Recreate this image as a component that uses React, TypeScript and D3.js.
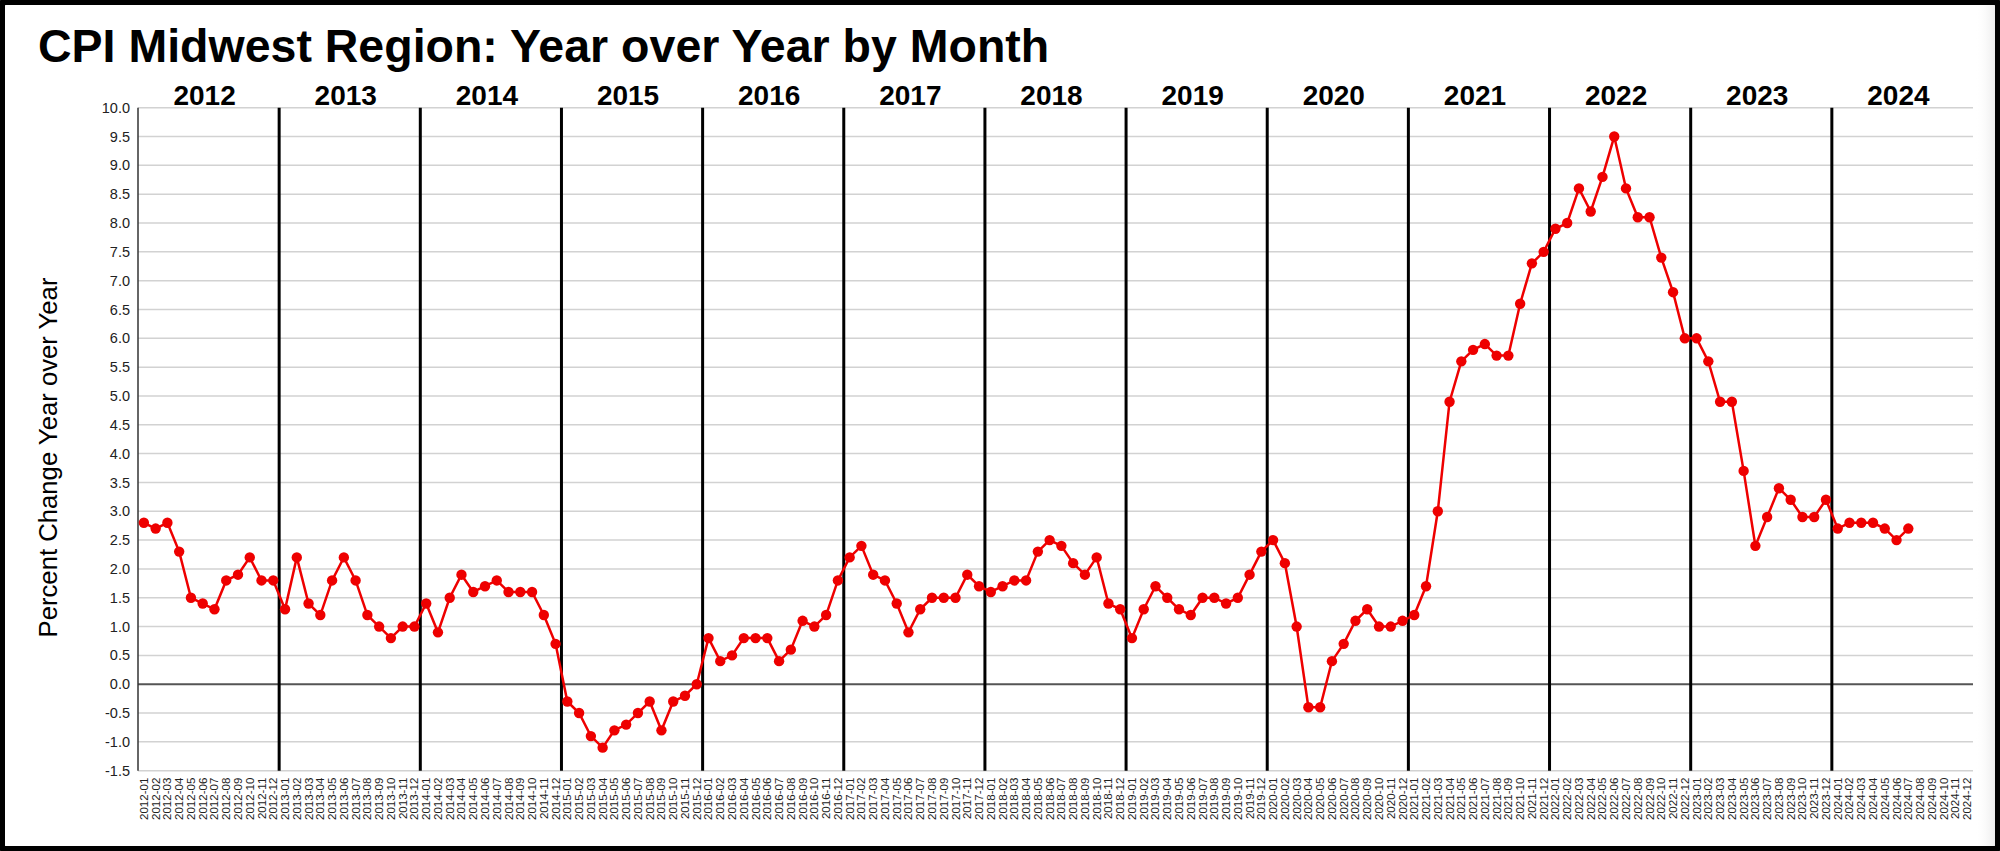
import React from 'react';
import * as d3 from 'd3';

const titleText = 'CPI Midwest Region: Year over Year by Month';
const yAxisTitle = 'Percent Change Year over Year';
const years = [2012, 2013, 2014, 2015, 2016, 2017, 2018, 2019, 2020, 2021, 2022, 2023, 2024];
const monthCodes = ['01', '02', '03', '04', '05', '06', '07', '08', '09', '10', '11', '12'];
const yTicks = [-1.5, -1.0, -0.5, 0.0, 0.5, 1.0, 1.5, 2.0, 2.5, 3.0, 3.5, 4.0, 4.5, 5.0, 5.5, 6.0, 6.5, 7.0, 7.5, 8.0, 8.5, 9.0, 9.5, 10.0];

const cpi2012 = [2.8, 2.7, 2.8, 2.3, 1.5, 1.4, 1.3, 1.8, 1.9, 2.2, 1.8, 1.8];
const cpi2013 = [1.3, 2.2, 1.4, 1.2, 1.8, 2.2, 1.8, 1.2, 1.0, 0.8, 1.0, 1.0];
const cpi2014 = [1.4, 0.9, 1.5, 1.9, 1.6, 1.7, 1.8, 1.6, 1.6, 1.6, 1.2, 0.7];
const cpi2015 = [-0.3, -0.5, -0.9, -1.1, -0.8, -0.7, -0.5, -0.3, -0.8, -0.3, -0.2, 0.0];
const cpi2016 = [0.8, 0.4, 0.5, 0.8, 0.8, 0.8, 0.4, 0.6, 1.1, 1.0, 1.2, 1.8];
const cpi2017 = [2.2, 2.4, 1.9, 1.8, 1.4, 0.9, 1.3, 1.5, 1.5, 1.5, 1.9, 1.7];
const cpi2018 = [1.6, 1.7, 1.8, 1.8, 2.3, 2.5, 2.4, 2.1, 1.9, 2.2, 1.4, 1.3];
const cpi2019 = [0.8, 1.3, 1.7, 1.5, 1.3, 1.2, 1.5, 1.5, 1.4, 1.5, 1.9, 2.3];
const cpi2020 = [2.5, 2.1, 1.0, -0.4, -0.4, 0.4, 0.7, 1.1, 1.3, 1.0, 1.0, 1.1];
const cpi2021 = [1.2, 1.7, 3.0, 4.9, 5.6, 5.8, 5.9, 5.7, 5.7, 6.6, 7.3, 7.5];
const cpi2022 = [7.9, 8.0, 8.6, 8.2, 8.8, 9.5, 8.6, 8.1, 8.1, 7.4, 6.8, 6.0];
const cpi2023 = [6.0, 5.6, 4.9, 4.9, 3.7, 2.4, 2.9, 3.4, 3.2, 2.9, 2.9, 3.2];
const cpi2024 = [2.7, 2.8, 2.8, 2.8, 2.7, 2.5, 2.7];

const seriesByYear = [cpi2012, cpi2013, cpi2014, cpi2015, cpi2016, cpi2017, cpi2018, cpi2019, cpi2020, cpi2021, cpi2022, cpi2023, cpi2024];

const categories: string[] = [];
years.forEach((yr) => monthCodes.forEach((m) => categories.push(`${yr}-${m}`)));

type Pt = { cat: string; v: number };
const points: Pt[] = [];
years.forEach((yr, i) => {
  seriesByYear[i].forEach((v, j) => points.push({ cat: `${yr}-${monthCodes[j]}`, v }));
});

const W = 2000;
const H = 851;
const left = 138;
const right = 1973;
const top = 107.7;
const bottom = 770.7;

export default function App() {
  const x = d3.scaleBand<string>().domain(categories).range([left, right]).padding(0);
  const bw = x.bandwidth();
  const y = d3.scaleLinear().domain([-1.5, 10]).range([bottom, top]);
  const cx = (c: string) => (x(c) as number) + bw / 2;
  const line = d3
    .line<Pt>()
    .x((d) => cx(d.cat))
    .y((d) => y(d.v));
  const font = 'Liberation Sans, Arial, Helvetica, sans-serif';

  return (
    <svg
      width={W}
      height={H}
      viewBox={`0 0 ${W} ${H}`}
      style={{ position: 'absolute', left: 0, top: 0, display: 'block' }}
      fontFamily={font}
    >
      <defs>
        <linearGradient id="edgeShade" x1="0" x2="1" y1="0" y2="0">
          <stop offset="0" stopColor="#ffffff" stopOpacity={0} />
          <stop offset="1" stopColor="#e8e8e8" stopOpacity={1} />
        </linearGradient>
      </defs>
      <rect x={0} y={0} width={W} height={H} fill="#ffffff" />
      <rect x={1975} y={0} width={22} height={H} fill="url(#edgeShade)" />

      {/* title */}
      <text x={38} y={62} fontSize={46.5} fontWeight="bold" fill="#000">
        {titleText}
      </text>

      {/* gridlines */}
      {yTicks.map((t) => (
        <line
          key={`g${t}`}
          x1={left}
          x2={right}
          y1={y(t)}
          y2={y(t)}
          stroke={t === 0 ? '#555555' : '#d2d2d2'}
          strokeWidth={t === 0 ? 2 : 1.5}
        />
      ))}

      {/* y tick labels */}
      {yTicks.map((t) => (
        <text
          key={`t${t}`}
          x={130}
          y={y(t)}
          dy="0.35em"
          textAnchor="end"
          fontSize={14.5}
          fill="#222"
        >
          {t.toFixed(1)}
        </text>
      ))}

      {/* left axis */}
      <line x1={left} x2={left} y1={top} y2={bottom} stroke="#333" strokeWidth={1.5} />

      {/* year separators */}
      {years.slice(1).map((yr) => (
        <line
          key={`s${yr}`}
          x1={x(`${yr}-01`) as number}
          x2={x(`${yr}-01`) as number}
          y1={top}
          y2={bottom}
          stroke="#000"
          strokeWidth={3}
        />
      ))}

      {/* year labels */}
      {years.map((yr) => (
        <text
          key={`y${yr}`}
          x={(x(`${yr}-01`) as number) + bw * 6 - 4}
          y={105}
          textAnchor="middle"
          fontSize={28}
          fontWeight="bold"
          fill="#000"
        >
          {yr}
        </text>
      ))}

      {/* x tick labels */}
      {categories.map((c) => (
        <text
          key={`x${c}`}
          transform={`translate(${cx(c) + 4},${bottom + 7}) rotate(-90)`}
          textAnchor="end"
          fontSize={11.5}
          fill="#222"
        >
          {c}
        </text>
      ))}

      {/* y axis title */}
      <text
        transform={`translate(57,${457.5}) rotate(-90)`}
        textAnchor="middle"
        fontSize={25.7}
        fill="#000"
      >
        {yAxisTitle}
      </text>

      {/* data line */}
      <path d={line(points) as string} fill="none" stroke="#ee0000" strokeWidth={2.5} />
      {points.map((p) => (
        <circle key={`p${p.cat}`} cx={cx(p.cat)} cy={y(p.v)} r={5.2} fill="#ee0000" />
      ))}

      {/* frame */}
      <rect x={1.5} y={1.5} width={W - 3} height={H - 3} rx={4} fill="none" stroke="#000" strokeWidth={7} />
    </svg>
  );
}
